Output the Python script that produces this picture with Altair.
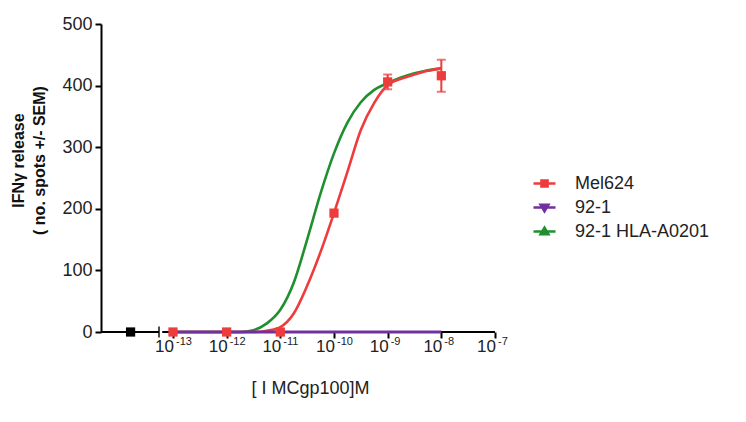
import altair as alt
import pandas as pd

# ---------------- data ----------------
series_names = ["Mel624", "92-1", "92-1 HLA-A0201"]
series_colors = ["#EE3B3B", "#7030A0", "#1F8F2F"]

tick_exponents = [-13, -12, -11, -10, -9, -8, -7]
tick_base = ["10"] * 7
tick_power = ["-13", "-12", "-11", "-10", "-9", "-8", "-7"]
y_ticks = [0, 100, 200, 300, 400, 500]

# Mel624 measured points (log10 concentration, mean, SEM)
mel_logc = [-13, -12, -11, -10, -9, -8]
mel_mean = [0, 0, 0, 193, 406, 416]
mel_sem = [0, 0, 0, 0, 12, 26]

# no-peptide control (left of the axis break)
control_pos = [-13.79]
control_value = [0]

# fitted curves
curve_logc = [-13, -12, -11.75, -11.5, -11.25, -11, -10.75, -10.5, -10.25,
              -10, -9.75, -9.5, -9.25, -9, -8.75, -8.5, -8.25, -8]
mel_curve = [0, 0, 0, 0, 2, 8, 30, 75, 130, 193, 260, 328, 372, 401, 411, 418, 424, 428]
hla_curve = [0, 0, 0, 3, 14, 36, 80, 150, 225, 290, 340, 373, 393, 404, 413, 420, 425, 428]
p921_logc = [-13, -8]
p921_curve = [0, 0]

# x-axis: broken axis (control segment, then log segment)
x_min, x_max = -14.341, -7
axis_break = -13.26
seg_start = [x_min, -13.2]
seg_end = [axis_break, x_max]

# ---------------- tables ----------------
mel_df = pd.DataFrame({"x": mel_logc, "y": mel_mean,
                       "lo": [m - s for m, s in zip(mel_mean, mel_sem)],
                       "hi": [m + s for m, s in zip(mel_mean, mel_sem)],
                       "sem": mel_sem})
err_df = mel_df[mel_df["sem"] > 0]
ctrl_df = pd.DataFrame({"x": control_pos, "y": control_value})
red_curve_df = pd.DataFrame({"x": curve_logc, "y": mel_curve})
green_curve_df = pd.DataFrame({"x": curve_logc, "y": hla_curve})
purple_df = pd.DataFrame({"x": p921_logc, "y": p921_curve})
seg_df = pd.DataFrame({"x": seg_start, "x1": seg_end, "y": [0, 0]})
cap_df = pd.DataFrame({"x": [axis_break], "y": [0]})
tick_df = pd.DataFrame({"x": tick_exponents, "y": [0] * 7,
                        "base": tick_base, "power": tick_power})
legend_df = pd.DataFrame({"series": series_names, "x": [x_max] * 3, "y": [0] * 3})

FONT = "Liberation Sans"
W, H = 394, 308

x_scale = alt.Scale(domain=[x_min, x_max], nice=False, zero=False)
y_scale = alt.Scale(domain=[0, 500], nice=False, zero=True)
color_scale = alt.Scale(domain=series_names, range=series_colors)
legend_paths = [
    "M-1,0H1M-0.28,-0.28H0.28V0.28H-0.28Z",
    "M-1,0H1M-0.36,-0.26L0.36,-0.26L0,0.34Z",
    "M-1,0H1M-0.36,0.26L0.36,0.26L0,-0.34Z",
]
shape_scale = alt.Scale(domain=series_names, range=legend_paths)

x_axis = alt.Axis(
    values=tick_exponents, labels=False,
    domain=False, grid=False, ticks=True, tickSize=6, tickWidth=2, tickColor="black",
    title="[ I MCgp100]M", titleFont=FONT, titleFontSize=18, titleFontWeight="normal",
    titleColor="#222", titleX=209, titleY=61, titleAlign="center",
    titleBaseline="alphabetic", titleAnchor="middle",
)
y_axis = alt.Axis(
    values=y_ticks, domain=True, domainColor="black", domainWidth=2, grid=False,
    tickSize=6, tickWidth=2, tickColor="black",
    labelFont=FONT, labelFontSize=18, labelColor="#222", labelPadding=3,
    title=["IFNγ release", "( no. spots  +/- SEM)"], titleFont=FONT,
    titleFontSize=16, titleFontWeight="bold", titleColor="#111",
    titleLineHeight=21, titleAngle=-90, titleX=-83, titleY=136,
    titleAlign="center", titleBaseline="middle",
)

legend_def = alt.Legend(
    title=None, orient="none", legendX=431, legendY=147, direction="vertical",
    symbolSize=484, symbolStrokeWidth=2.5, symbolOpacity=1,
    labelFont=FONT, labelFontSize=18, labelColor="#222", labelOffset=18,
    rowPadding=2, padding=0,
)


def X(f="x"):
    return alt.X(f"{f}:Q", scale=x_scale, axis=x_axis)


def Y(f="y"):
    return alt.Y(f"{f}:Q", scale=y_scale, axis=y_axis)


axis_layer = alt.Chart(seg_df).mark_rule(color="black", strokeWidth=2).encode(
    x=X(), x2="x1:Q", y=Y())
cap_layer = alt.Chart(cap_df).mark_tick(
    orient="vertical", size=11, thickness=2, color="black"
).encode(x=X(), y=Y())

tick_base_layer = alt.Chart(tick_df).mark_text(
    font=FONT, fontSize=17, color="#222", align="right", baseline="alphabetic",
    dx=1, dy=20,
).encode(x=X(), y=Y(), text="base:N")
tick_power_layer = alt.Chart(tick_df).mark_text(
    font=FONT, fontSize=11, color="#222", align="left", baseline="alphabetic",
    dx=3, dy=13,
).encode(x=X(), y=Y(), text="power:N")

green_layer = alt.Chart(green_curve_df).mark_line(
    interpolate="monotone", strokeWidth=2.6, color=series_colors[2]
).encode(x=X(), y=Y())
red_layer = alt.Chart(red_curve_df).mark_line(
    interpolate="monotone", strokeWidth=2.6, color=series_colors[0]
).encode(x=X(), y=Y())
purple_layer = alt.Chart(purple_df).mark_line(
    strokeWidth=3.2, color=series_colors[1]
).encode(x=X(), y=Y())

err_rule = alt.Chart(err_df).mark_rule(color=series_colors[0], strokeWidth=2).encode(
    x=X(), y=Y("lo"), y2="hi:Q")
err_lo = alt.Chart(err_df).mark_tick(
    orient="horizontal", size=9, thickness=2, color=series_colors[0]
).encode(x=X(), y=Y("lo"))
err_hi = alt.Chart(err_df).mark_tick(
    orient="horizontal", size=9, thickness=2, color=series_colors[0]
).encode(x=X(), y=Y("hi"))
mel_pts = alt.Chart(mel_df).mark_square(size=85, color=series_colors[0], opacity=1).encode(
    x=X(), y=Y())
ctrl_pts = alt.Chart(ctrl_df).mark_square(size=85, color="black", opacity=1).encode(
    x=X(), y=Y())

legend_layer = alt.Chart(legend_df).mark_point(filled=True, opacity=0).encode(
    x=X(), y=Y(),
    fill=alt.Fill("series:N", scale=color_scale, legend=legend_def),
    stroke=alt.Stroke("series:N", scale=color_scale, legend=legend_def),
    shape=alt.Shape("series:N", scale=shape_scale, legend=legend_def),
)

chart = alt.layer(
    axis_layer, cap_layer, tick_base_layer, tick_power_layer,
    green_layer, red_layer, purple_layer,
    err_rule, err_lo, err_hi, mel_pts, ctrl_pts, legend_layer,
).properties(
    width=W, height=H,
    background="white",
    autosize=alt.AutoSizeParams(type="none"),
    padding={"left": 93, "top": 16, "right": 243, "bottom": 78},
).configure_view(stroke=None)

chart.save("out.html", embed_options={"renderer": "svg", "actions": False})
